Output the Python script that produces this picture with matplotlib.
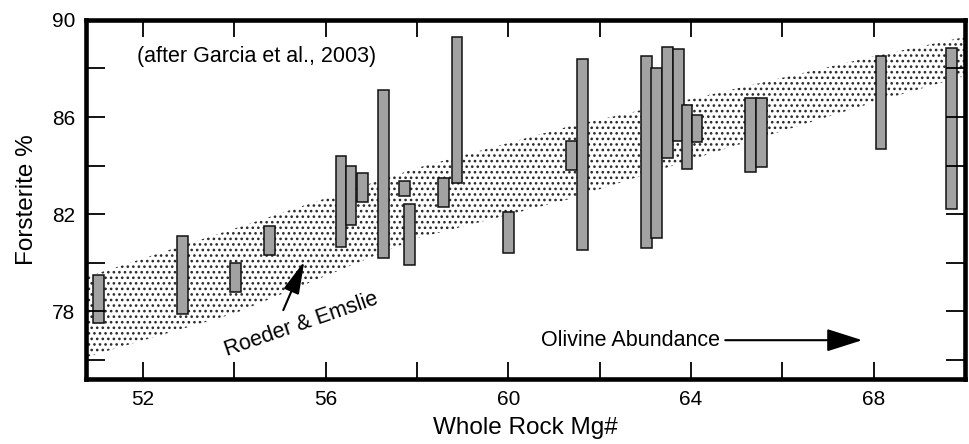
import matplotlib.pyplot as plt
import numpy as np
from matplotlib.ticker import MultipleLocator

plt.rcParams['font.family'] = ['Liberation Sans', 'DejaVu Sans']
plt.rcParams['hatch.linewidth'] = 1.1

# Olivine Fo ranges per sample
mg = [51.02, 52.86, 54.02, 54.77, 56.33, 56.55, 56.81, 57.26, 57.72, 57.83,
      58.58, 58.87, 60.00, 61.38, 61.62, 63.02, 63.24, 63.49, 63.73, 63.91,
      64.13, 65.30, 65.54, 68.16, 69.71]
fo_max = [79.5, 81.1, 80.0, 81.5, 84.4, 84.0, 83.7, 87.1, 83.35, 82.4,
          83.5, 89.3, 82.1, 85.0, 88.4, 88.5, 88.0, 88.9, 88.8, 86.5,
          86.1, 86.8, 86.8, 88.5, 88.85]
fo_min = [77.5, 77.9, 78.8, 80.3, 80.65, 81.55, 82.5, 80.2, 82.75, 79.9,
          82.3, 83.3, 80.4, 83.8, 80.5, 80.6, 81.0, 84.3, 85.0, 83.85,
          84.95, 83.75, 83.95, 84.7, 82.2]

# Roeder & Emslie equilibrium band
band_mg = [50.75, 54.0, 58.0, 61.3, 64.6, 68.0, 70.0]
band_hi = [79.4, 81.4, 83.9, 85.6, 87.0, 88.5, 89.3]
band_lo = [76.1, 77.9, 81.0, 82.6, 84.6, 86.6, 87.7]

fig = plt.figure(figsize=(9.7, 4.44), dpi=100)
ax = fig.add_axes([0.0887, 0.1464, 0.9061, 0.8086])

ax.fill_between(band_mg, band_lo, band_hi, facecolor='none', edgecolor='#2a2a2a',
                hatch='...', linewidth=0, zorder=0.5)

heights = np.array(fo_max) - np.array(fo_min)
ax.bar(mg, heights, bottom=fo_min, width=0.23, color='#a2a2a2',
       edgecolor='#111111', linewidth=1.1, zorder=1)

ax.set_xlim(50.75, 70)
ax.set_ylim(75.2, 90)
ax.xaxis.set_minor_locator(MultipleLocator(2))
ax.yaxis.set_minor_locator(MultipleLocator(2))
ax.set_xticks([52, 56, 60, 64, 68])
ax.set_yticks([78, 82, 86, 90])

ax.tick_params(which='both', direction='in', top=True, right=True,
               width=1.3, labelsize=15, pad=8)
ax.tick_params(axis='x', which='both', length=12)
ax.tick_params(axis='y', which='both', length=14)

for s in ax.spines.values():
    s.set_linewidth(3.3)

ax.set_xlabel('Whole Rock Mg#', fontsize=17.5, labelpad=6)
ax.set_ylabel('Forsterite %', fontsize=17.5, labelpad=10)

ax.text(51.87, 88.48, '(after Garcia et al., 2003)', fontsize=15.5,
        ha='left', va='center')

ax.text(55.46, 77.45, 'Roeder & Emslie', fontsize=15.5, rotation=19,
        ha='center', va='center')
ax.annotate('', xy=(55.53, 80.05), xytext=(55.07, 78.04),
            arrowprops=dict(arrowstyle='-|>,head_length=2.0,head_width=0.5',
                            color='k', lw=1.5, shrinkA=0, shrinkB=0))

ax.text(60.71, 76.8, 'Olivine Abundance', fontsize=15.5, ha='left', va='center')
ax.annotate('', xy=(67.75, 76.8), xytext=(64.75, 76.8),
            arrowprops=dict(arrowstyle='-|>,head_length=2.2,head_width=0.7',
                            color='k', lw=1.5, shrinkA=0, shrinkB=0))

fig.savefig('out.png', dpi=100)
